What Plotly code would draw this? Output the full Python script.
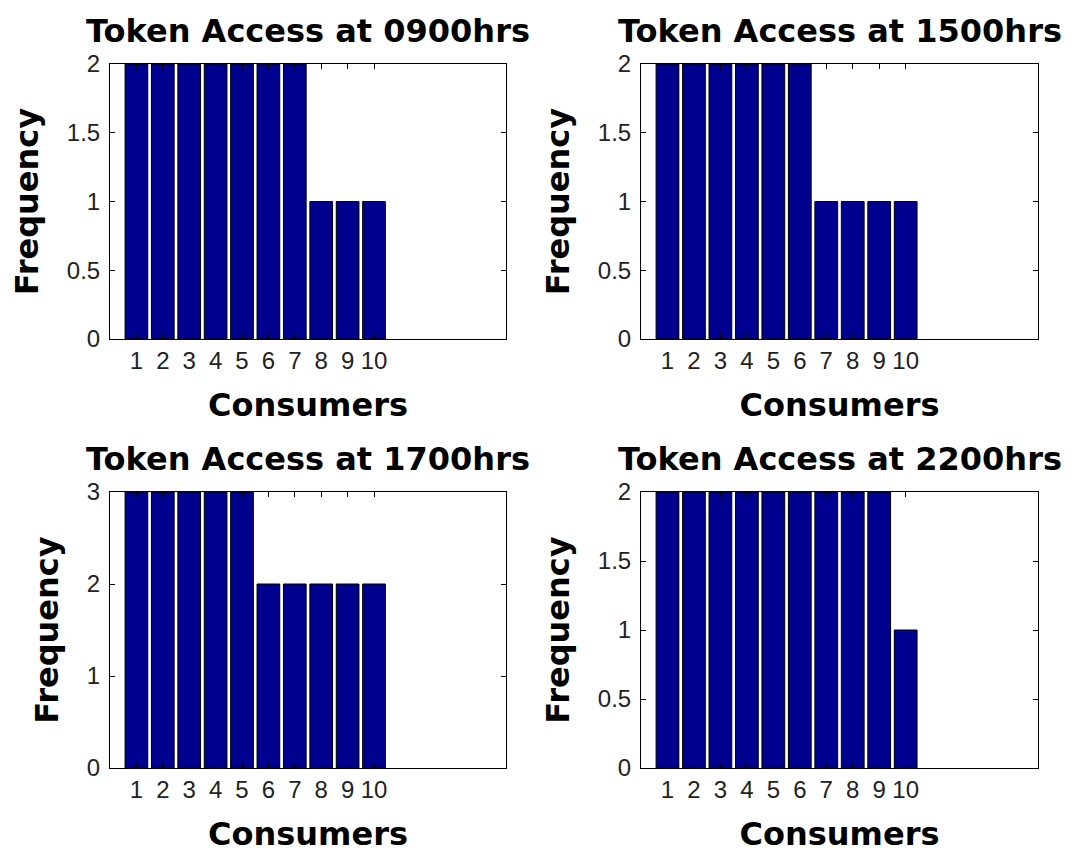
import plotly.graph_objects as go

# Token access counts per consumer at four times of day
consumers = [1, 2, 3, 4, 5, 6, 7, 8, 9, 10]
freq_0900 = [2, 2, 2, 2, 2, 2, 2, 1, 1, 1]
freq_1500 = [2, 2, 2, 2, 2, 2, 1, 1, 1, 1]
freq_1700 = [3, 3, 3, 3, 3, 2, 2, 2, 2, 2]
freq_2200 = [2, 2, 2, 2, 2, 2, 2, 2, 2, 1]

titles = ["Token Access at 0900hrs", "Token Access at 1500hrs",
          "Token Access at 1700hrs", "Token Access at 2200hrs"]
series = [freq_0900, freq_1500, freq_1700, freq_2200]
y_ticks = [[0, 0.5, 1, 1.5, 2], [0, 0.5, 1, 1.5, 2],
           [0, 1, 2, 3], [0, 0.5, 1, 1.5, 2]]
y_max = [2, 2, 3, 2]

W, H = 1074, 853
# panel boxes in pixels: left, right, top, bottom
boxes = [(110, 506, 64, 339), (641, 1038, 64, 339),
         (110, 506, 492, 768), (641, 1038, 492, 768)]

BAR = "#00008F"
TITLE_FONT = dict(family="DejaVu Sans", size=32, color="black")
TICK_FONT = dict(family="Liberation Sans", size=24, color="#222222")

fig = go.Figure()
layout = dict(
    width=W, height=H,
    margin=dict(l=0, r=0, t=0, b=0, autoexpand=False),
    paper_bgcolor="white", plot_bgcolor="white",
    showlegend=False,
    bargap=0.14,
    annotations=[],
)

for i, (vals, title) in enumerate(zip(series, titles)):
    n = "" if i == 0 else str(i + 1)
    fig.add_trace(go.Bar(
        x=consumers, y=vals,
        marker=dict(color=BAR, line=dict(color="black", width=1)),
        xaxis="x" + n, yaxis="y" + n,
    ))
    l, r, t, b = boxes[i]
    axis_common = dict(
        showline=True, linecolor="black", linewidth=1, mirror="ticks",
        ticks="inside", ticklen=5, tickcolor="black", tickwidth=1,
        showgrid=False, zeroline=False, tickfont=TICK_FONT,
        automargin=False,
    )
    layout["xaxis" + n] = dict(
        axis_common,
        domain=[l / W, r / W], anchor="y" + n,
        range=[0, 15], tickvals=consumers,
        ticktext=[str(c) for c in consumers],
        title=dict(text="<b>Consumers</b>", font=TITLE_FONT, standoff=20),
    )
    layout["yaxis" + n] = dict(
        axis_common,
        domain=[1 - b / H, 1 - t / H], anchor="x" + n,
        range=[0, y_max[i]], tickvals=y_ticks[i],
        ticktext=[f"{v:g}" for v in y_ticks[i]],
        ticklabelstandoff=4,
        title=dict(text="<b>Frequency</b>", font=TITLE_FONT, standoff=18),
    )
    layout["annotations"].append(dict(
        text="<b>" + title + "</b>", font=TITLE_FONT,
        xref="paper", yref="paper",
        x=(l + r) / 2 / W, y=1 - (t - 12) / H,
        xanchor="center", yanchor="bottom", showarrow=False,
    ))

fig.update_layout(**layout)
fig.write_html("out.html")
